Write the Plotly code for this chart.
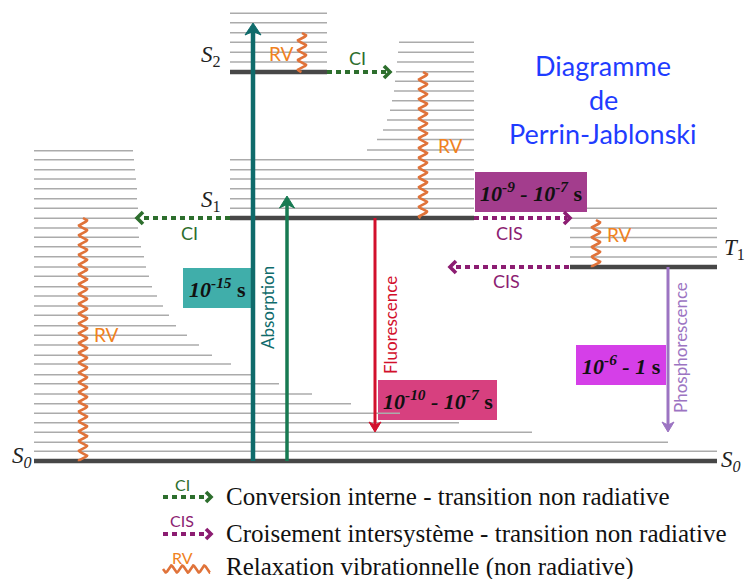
import numpy as np
import plotly.graph_objects as go

W, H = 748, 579

# ---------------- data (diagram coordinates, y grows downward) ----------------
# vibrational sub-levels of S0 (left ladder)
s0_sub_y = [150.7, 159.7, 169.7, 179, 188.7, 198.7, 208.3, 218.3, 228, 237.3, 246.7,
            256.7, 267, 276.3, 286.7, 296, 306, 315.3, 325.7, 335.3, 345, 355.3, 364,
            374.7, 383.7, 394, 403.7, 413.3, 422.7, 432.3, 442.3, 451.3]
s0_sub_x1 = [133, 134, 135, 136, 137, 137, 138, 138, 138, 139, 141, 144, 146, 149, 152,
             157, 163, 169, 176, 187, 199, 212, 231, 252, 279, 312, 351, 400, 459, 532,
             668, 717]
s0_sub_x0 = [34] * len(s0_sub_y)

# vibrational sub-levels of S1
s1_sub_y = [42.3, 52.3, 62, 71.7, 81.3, 91, 100.7, 110.3, 120, 130, 139.5, 150,
            159.7, 169.7, 179, 188.7, 198.7, 208.3]
s1_sub_x0 = [399, 398, 397, 396, 395, 394, 392, 390, 387, 383, 377, 367,
             230, 230, 230, 230, 230, 230]
s1_sub_x1 = [474] * len(s1_sub_y)

# vibrational sub-levels of S2
s2_sub_y = [13.3, 22.7, 32.7, 42.3, 52.3, 62]
s2_sub_x0 = [230] * len(s2_sub_y)
s2_sub_x1 = [327] * len(s2_sub_y)

# vibrational sub-levels of T1
t1_sub_y = [208.3, 218.3, 228, 237.5, 247, 257]
t1_sub_x0 = [587, 570, 570, 570, 570, 570]
t1_sub_x1 = [717] * len(t1_sub_y)

# electronic levels
level_names = ["S0", "S1", "S2", "T1"]
level_y = [461, 218, 72, 267]
level_x0 = [34, 230, 230, 570]
level_x1 = [717, 474, 327, 717]

# level labels
label_text = ["<i>S<sub>0</sub></i>", "<i>S<sub>0</sub></i>", "<i>S</i><sub>1</sub>",
              "<i>S</i><sub>2</sub>", "<i>T</i><sub>1</sub>"]
label_x = [22, 731, 211, 211, 734]
label_y = [457, 461, 201, 56, 249]

# radiative / absorption arrows (vertical)
rad_names = ["Absorption", "Absorption2", "Fluorescence", "Phosphorescence"]
rad_x = [253, 287, 375, 668]
rad_from = [461, 461, 218, 267]
rad_to = [23, 196, 432, 432]
rad_color = ["#0f6b6b", "#177a52", "#d2102c", "#9c74c2"]
rad_width = [4.5, 3.5, 3, 3]
rad_head_w = [16, 15, 12, 12]
rad_head_h = [12, 12, 10, 10]

# rotated labels of these arrows
rot_text = ["Absorption", "Fluorescence", "Phosphorescence"]
rot_x = [267, 390, 680]
rot_y = [308, 325, 348]
rot_color = ["#0f6b6b", "#d2102c", "#9c74c2"]

# non-radiative dashed arrows (horizontal)
nr_names = ["CI", "CI", "CIS", "CIS"]
nr_y = [72, 218, 218, 267]
nr_from = [327, 230, 474, 569]
nr_to = [390, 137, 570, 450]
nr_color = ["#2d6e2d", "#2d6e2d", "#8c1d72", "#8c1d72"]
nr_label_x = [357, 189, 509, 506]
nr_label_y = [58, 233, 233, 281]

# vibrational relaxation (wavy)
rv_x = [302, 423, 83, 596]
rv_from = [33, 72, 218, 220]
rv_to = [72, 218, 461, 267]
rv_label_x = [281, 450, 106, 619]
rv_label_y = [53, 145, 334, 234]

# time-scale boxes
box_text = ["<i>10<sup>-15</sup></i> s", "<i>10<sup>-9</sup> - 10<sup>-7</sup></i> s",
            "<i>10<sup>-10</sup> - 10<sup>-7</sup></i> s", "<i>10<sup>-6</sup> - 1</i> s"]
box_x0 = [183, 475, 378, 576]
box_x1 = [251, 587, 497, 666]
box_y0 = [268, 172, 380, 345]
box_y1 = [308, 212, 420, 385]
box_color = ["#40aeaa", "#a33d8d", "#d7407f", "#d53fe8"]

# title
title_lines = ["Diagramme", "de", "Perrin-Jablonski"]
title_y = [65, 99, 133]
title_x = 603

# legend
legend_text = ["Conversion interne - transition non radiative",
               "Croisement intersystème - transition non radiative",
               "Relaxation vibrationnelle (non radiative)"]
legend_tag = ["CI", "CIS", "RV"]
legend_y = [496, 533, 567]
legend_tag_y = [484, 520, 557]
legend_color = ["#2d6e2d", "#8c1d72", "#e0733a"]

RV_COLOR = "#e0733a"
RV_TEXT = "#f0821e"
GRAY = "#ababab"
DARK = "#474747"
SERIF = "Liberation Serif"
SANS = "Lato"

fig = go.Figure()
annotations = []
shapes = []


def add_line(X, Y, color, width, dash=None, fill=None):
    fig.add_trace(go.Scatter(x=X, y=Y, mode="lines", fill=fill,
                             fillcolor=color if fill else None,
                             line=dict(color=color, width=width, dash=dash),
                             hoverinfo="skip", showlegend=False))


def seg_trace(x0s, x1s, ys, color, width, dash=None):
    X, Y = [], []
    for a, b, y in zip(x0s, x1s, ys):
        X += [a, b, None]
        Y += [y, y, None]
    add_line(X, Y, color, width, dash)


def chevron(xt, y, sgn, color, size=6):
    # open ">" head pointing in direction sgn
    add_line([xt - sgn * size, xt, xt - sgn * size], [y - size, y, y + size], color, 3.6)


def head_v(x, yt, sgn, color, w, h):
    # barbed triangular head pointing up (sgn=-1) or down (sgn=+1)
    add_line([x - w / 2, x, x + w / 2, x, x - w / 2],
             [yt - sgn * h, yt, yt - sgn * h, yt - sgn * h * 0.7, yt - sgn * h],
             color, 1, fill="toself")


# boxes (below lines)
for x0, x1, y0, y1, c in zip(box_x0, box_x1, box_y0, box_y1, box_color):
    shapes.append(dict(type="rect", x0=x0, x1=x1, y0=y0, y1=y1, xref="x", yref="y",
                       fillcolor=c, line=dict(width=0), layer="below"))

# ladders
seg_trace(s0_sub_x0, s0_sub_x1, s0_sub_y, GRAY, 1.6)
seg_trace(s1_sub_x0, s1_sub_x1, s1_sub_y, GRAY, 1.6)
seg_trace(s2_sub_x0, s2_sub_x1, s2_sub_y, GRAY, 1.6)
seg_trace(t1_sub_x0, t1_sub_x1, t1_sub_y, GRAY, 1.6)
# electronic levels
seg_trace(level_x0, level_x1, level_y, DARK, 4.5)


# wavy relaxation lines
def wave_v(xc, y0, y1, amp=4.0, period=9.8):
    t = np.linspace(y0, y1, int((y1 - y0) * 3) + 2)
    return xc + amp * np.sin(2 * np.pi * (t - y0) / period), t


for xc, a, b in zip(rv_x, rv_from, rv_to):
    wx, wy = wave_v(xc, a, b)
    add_line(wx, wy, RV_COLOR, 2.6)

# dashed non-radiative arrows
for y, a, b, c in zip(nr_y, nr_from, nr_to, nr_color):
    sgn = 1 if b > a else -1
    add_line([a, b - sgn * 3], [y, y], c, 4, dash="5px,4px")
    chevron(b, y, sgn, c)

# vertical solid arrows
for x, a, b, c, w, hw, hh in zip(rad_x, rad_from, rad_to, rad_color, rad_width,
                                 rad_head_w, rad_head_h):
    sgn = 1 if b > a else -1
    add_line([x, x], [a, b - sgn * hh * 0.6], c, w)
    head_v(x, b, sgn, c, hw, hh)

# texts
for t, x, y in zip(label_text, label_x, label_y):
    annotations.append(dict(x=x, y=y, xref="x", yref="y", text=t, showarrow=False,
                            font=dict(family=SERIF, size=23, color="#222222")))
for t, x, y, c in zip(rot_text, rot_x, rot_y, rot_color):
    annotations.append(dict(x=x, y=y, xref="x", yref="y", text=t, showarrow=False,
                            textangle=-90, font=dict(family=SANS, size=17, color=c)))
for t, x, y, c in zip(nr_names, nr_label_x, nr_label_y, nr_color):
    annotations.append(dict(x=x, y=y, xref="x", yref="y", text=t, showarrow=False,
                            font=dict(family=SANS, size=18, color=c)))
for x, y in zip(rv_label_x, rv_label_y):
    annotations.append(dict(x=x, y=y, xref="x", yref="y", text="RV", showarrow=False,
                            font=dict(family=SANS, size=19, color=RV_TEXT)))
for t, x0, x1, y0, y1 in zip(box_text, box_x0, box_x1, box_y0, box_y1):
    annotations.append(dict(x=(x0 + x1) / 2, y=(y0 + y1) / 2, xref="x", yref="y",
                            text="<b>" + t + "</b>", showarrow=False,
                            font=dict(family=SERIF, size=22, color="#111111")))
for t, y in zip(title_lines, title_y):
    annotations.append(dict(x=title_x, y=y, xref="x", yref="y", text=t, showarrow=False,
                            font=dict(family=SANS, size=27, color="#1f3cff")))

# legend
for i, (t, tag, y, ty, c) in enumerate(zip(legend_text, legend_tag, legend_y,
                                          legend_tag_y, legend_color)):
    annotations.append(dict(x=224, y=y, xref="x", yref="y", text=t, showarrow=False,
                            xanchor="left",
                            font=dict(family=SERIF, size=25, color="#111111")))
    annotations.append(dict(x=182, y=ty, xref="x", yref="y", text=tag,
                            showarrow=False,
                            font=dict(family=SANS, size=16, color=c if i < 2 else RV_TEXT)))
    if i < 2:
        add_line([163, 207], [y + 1, y + 1], c, 4, dash="5px,4px")
        chevron(211, y + 1, 1, c, size=5)
    else:
        t2 = np.linspace(163, 210, 200)
        add_line(t2, y + 2 + 3.5 * np.sin(2 * np.pi * (t2 - 163) / 11.0), c, 2.6)

fig.update_layout(
    width=W, height=H, margin=dict(l=0, r=0, t=0, b=0),
    paper_bgcolor="white", plot_bgcolor="white",
    xaxis=dict(range=[0, W], visible=False, fixedrange=True),
    yaxis=dict(range=[H, 0], visible=False, fixedrange=True),
    annotations=annotations, shapes=shapes, showlegend=False,
)

fig.write_html(
    "out.html",
    config={"displayModeBar": False},
    post_script="document.body.style.margin='0';document.body.style.overflow='hidden';",
)
